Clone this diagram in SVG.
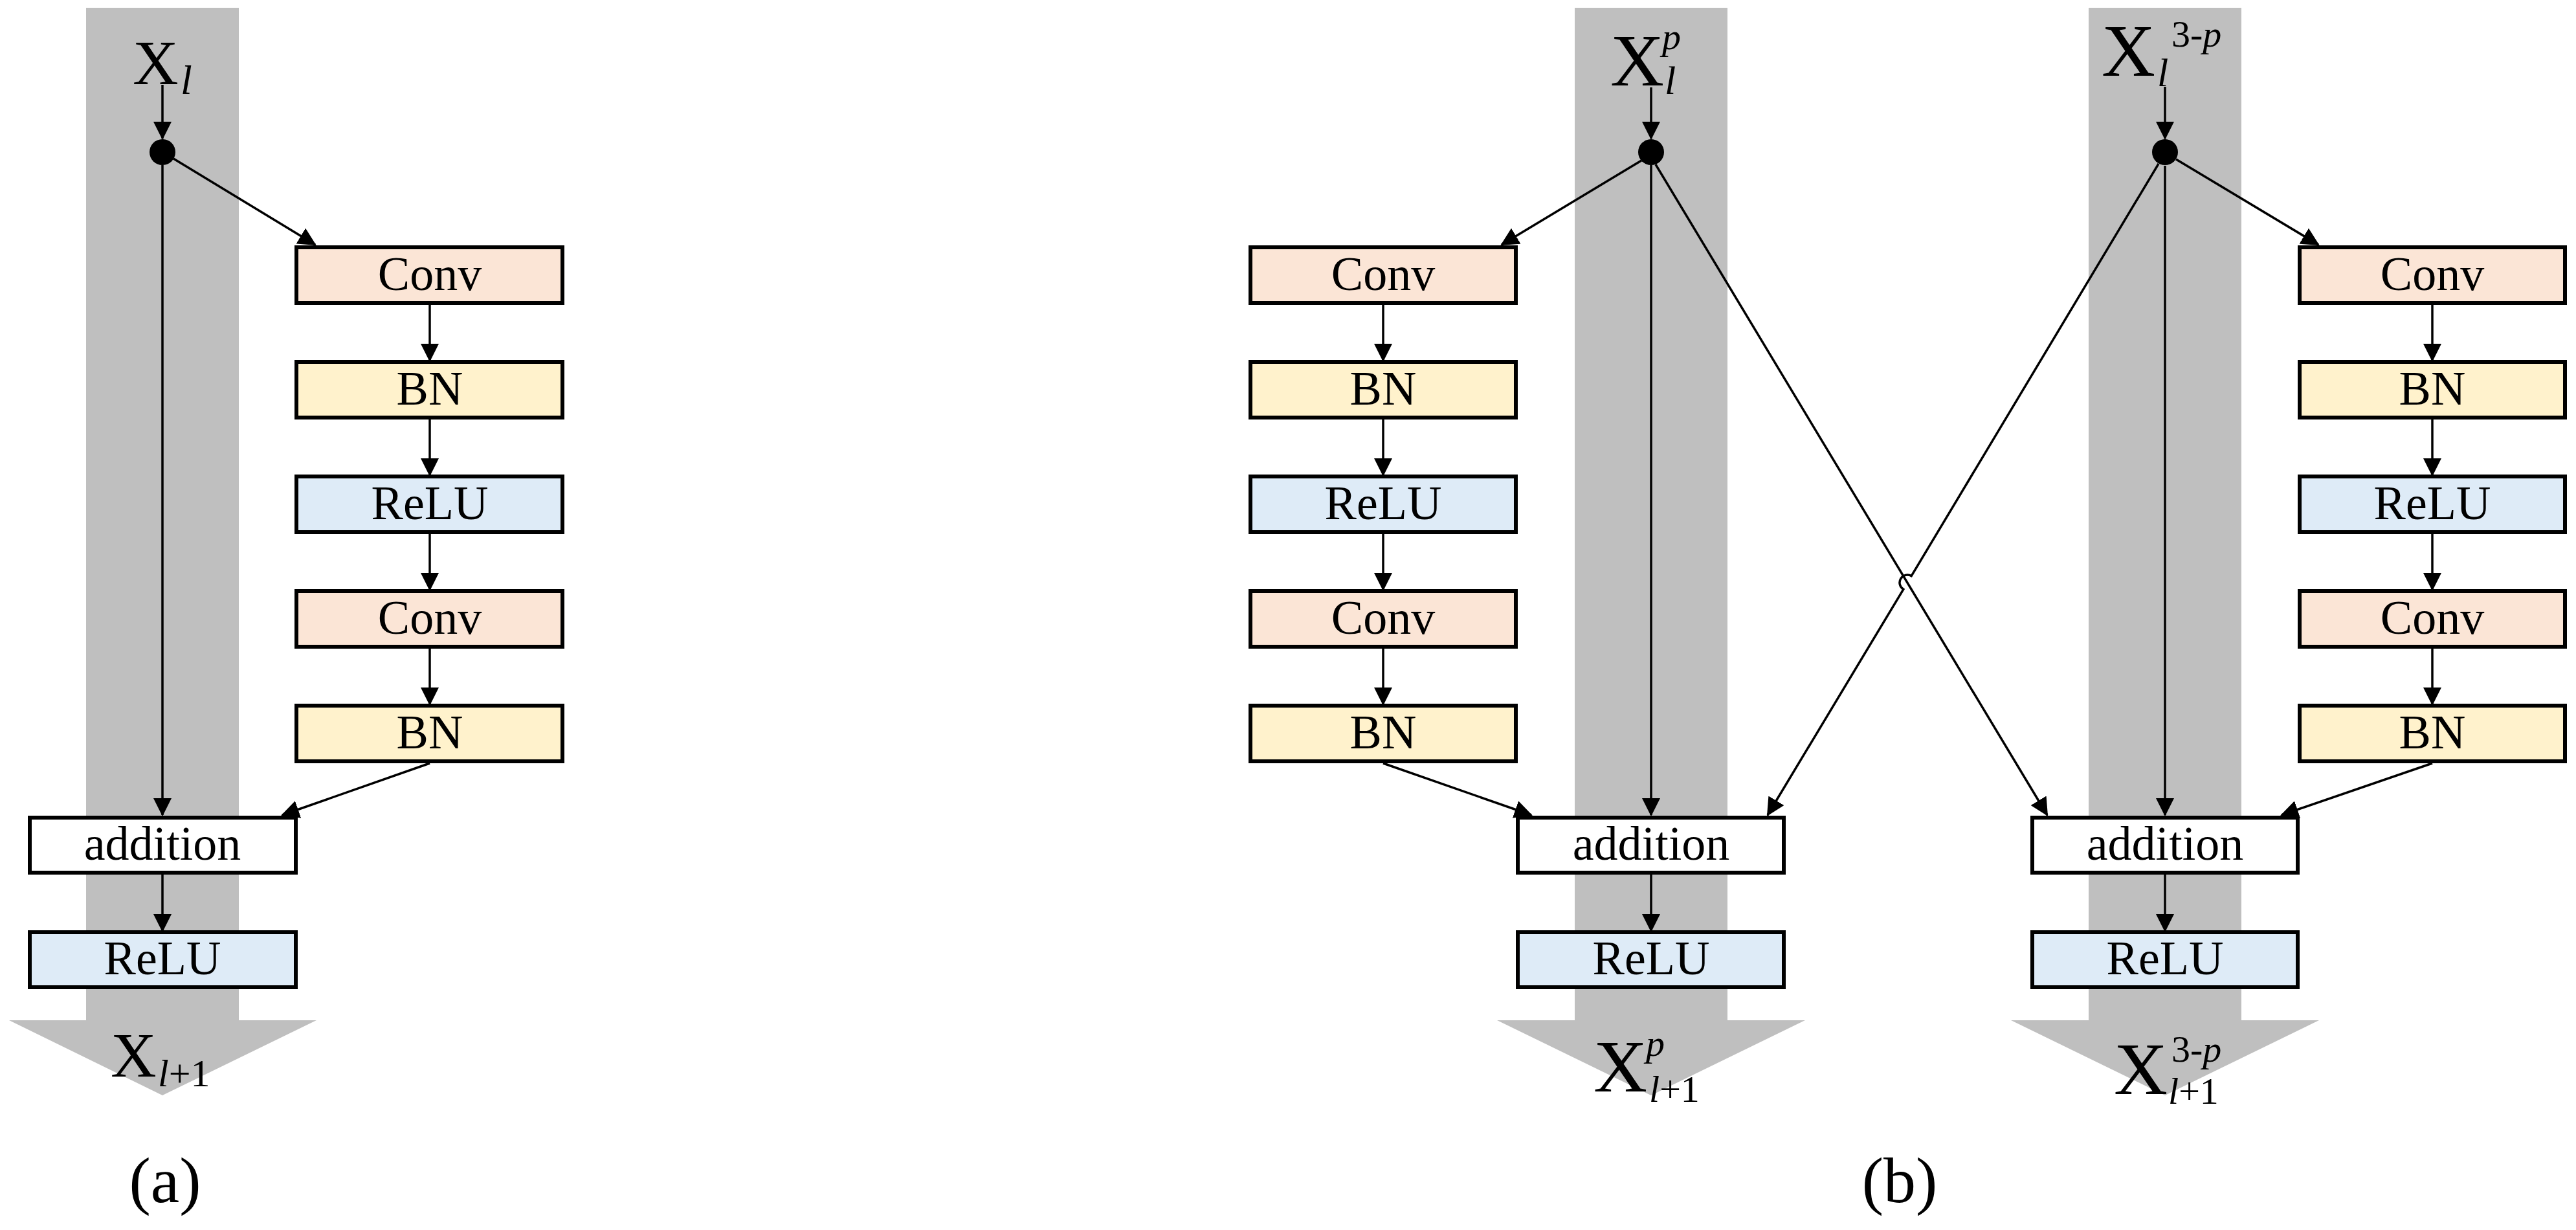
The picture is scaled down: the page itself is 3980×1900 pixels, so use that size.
<svg xmlns="http://www.w3.org/2000/svg" width="3980" height="1900" viewBox="0 0 3980 1900">
<style>
  .band{fill:#BFBFBF;stroke:none}
  .box{stroke:#000;stroke-width:6}
  .conv{fill:#FBE5D6}
  .bn{fill:#FFF2CC}
  .relu{fill:#DEEBF7}
  .add{fill:#FFFFFF}
  .lbl{font-family:"Liberation Serif","Times New Roman",serif;font-size:74px;text-anchor:middle;fill:#000}
  .math{font-family:"Liberation Serif","Times New Roman",serif;fill:#000}
  .it{font-style:italic}
  .cap{font-family:"Liberation Serif","Times New Roman",serif;font-size:100px;text-anchor:middle;fill:#000}
  .edge{fill:none;stroke:#000;stroke-width:3.5;marker-end:url(#arr)}
</style>
<defs>
  <marker id="arr" viewBox="0 0 28 28" refX="26" refY="14" markerWidth="28" markerHeight="28" markerUnits="userSpaceOnUse" orient="auto">
    <path d="M0,0 L28,14 L0,28 z" fill="#000"/>
  </marker>
</defs>
<rect width="3980" height="1900" fill="#FFFFFF"/>

<!-- gray flow bands -->
<g id="bands">
  <rect class="band" x="133" y="12" width="236" height="1565"/>
  <polygon class="band" points="14,1576 489,1576 251,1692"/>
  <rect class="band" x="2433" y="12" width="236" height="1565"/>
  <polygon class="band" points="2313,1576 2789,1576 2551,1692"/>
  <rect class="band" x="3227" y="12" width="236" height="1565"/>
  <polygon class="band" points="3107,1576 3583,1576 3345,1692"/>
</g>

<!-- connectors -->
<g id="connectors">
  <!-- (a) -->
  <line class="edge" x1="251" y1="131" x2="251" y2="214"/>
  <line class="edge" x1="251" y1="255" x2="251" y2="1259"/>
  <line class="edge" x1="268" y1="245" x2="487" y2="378"/>
  <line class="edge" x1="664" y1="471" x2="664" y2="557"/>
  <line class="edge" x1="664" y1="648" x2="664" y2="734"/>
  <line class="edge" x1="664" y1="825" x2="664" y2="911"/>
  <line class="edge" x1="664" y1="1002" x2="664" y2="1088"/>
  <line class="edge" x1="664" y1="1179" x2="436" y2="1259"/>
  <line class="edge" x1="251" y1="1351" x2="251" y2="1438"/>
  <!-- (b) left block -->
  <line class="edge" x1="2551" y1="135" x2="2551" y2="214"/>
  <line class="edge" x1="2551" y1="255" x2="2551" y2="1259"/>
  <line class="edge" x1="2536" y1="248" x2="2320" y2="378"/>
  <line class="edge" x1="2558" y1="254" x2="3163" y2="1259"/>
  <line class="edge" x1="2137" y1="471" x2="2137" y2="557"/>
  <line class="edge" x1="2137" y1="648" x2="2137" y2="734"/>
  <line class="edge" x1="2137" y1="825" x2="2137" y2="911"/>
  <line class="edge" x1="2137" y1="1002" x2="2137" y2="1088"/>
  <line class="edge" x1="2137" y1="1179" x2="2366" y2="1259"/>
  <line class="edge" x1="2551" y1="1351" x2="2551" y2="1438"/>
  <!-- (b) right block -->
  <line class="edge" x1="3345" y1="134" x2="3345" y2="214"/>
  <line class="edge" x1="3345" y1="256" x2="3345" y2="1259"/>
  <line class="edge" x1="3362" y1="246" x2="3582" y2="378"/>
  <path class="edge" d="M3335,253 L2953.2,889.7 A12,12 0 0 0 2940.8,910.3 L2731,1259"/>
  <line class="edge" x1="3758" y1="471" x2="3758" y2="557"/>
  <line class="edge" x1="3758" y1="648" x2="3758" y2="734"/>
  <line class="edge" x1="3758" y1="825" x2="3758" y2="911"/>
  <line class="edge" x1="3758" y1="1002" x2="3758" y2="1088"/>
  <line class="edge" x1="3758" y1="1179" x2="3525" y2="1259"/>
  <line class="edge" x1="3345" y1="1351" x2="3345" y2="1438"/>
</g>

<!-- split points -->
<g id="split-a"><circle cx="251" cy="235" r="20" fill="#000"/></g>
<g id="split-b1"><circle cx="2551" cy="235" r="20" fill="#000"/></g>
<g id="split-b2"><circle cx="3345" cy="235" r="20" fill="#000"/></g>

<!-- (a) nodes -->
<g id="a-conv1"><rect class="box conv" x="458" y="382" width="411" height="86"/><text class="lbl" x="664" y="448">Conv</text></g>
<g id="a-bn1"><rect class="box bn" x="458" y="559" width="411" height="86"/><text class="lbl" x="664" y="625">BN</text></g>
<g id="a-relu1"><rect class="box relu" x="458" y="736" width="411" height="86"/><text class="lbl" x="664" y="802">ReLU</text></g>
<g id="a-conv2"><rect class="box conv" x="458" y="913" width="411" height="86"/><text class="lbl" x="664" y="979">Conv</text></g>
<g id="a-bn2"><rect class="box bn" x="458" y="1090" width="411" height="86"/><text class="lbl" x="664" y="1156">BN</text></g>
<g id="a-add"><rect class="box add" x="46" y="1263" width="411" height="85"/><text class="lbl" x="251" y="1328">addition</text></g>
<g id="a-relu2"><rect class="box relu" x="46" y="1440" width="411" height="85"/><text class="lbl" x="251" y="1505">ReLU</text></g>

<!-- (b) left column -->
<g id="b1-conv1"><rect class="box conv" x="1932" y="382" width="410" height="86"/><text class="lbl" x="2137" y="448">Conv</text></g>
<g id="b1-bn1"><rect class="box bn" x="1932" y="559" width="410" height="86"/><text class="lbl" x="2137" y="625">BN</text></g>
<g id="b1-relu1"><rect class="box relu" x="1932" y="736" width="410" height="86"/><text class="lbl" x="2137" y="802">ReLU</text></g>
<g id="b1-conv2"><rect class="box conv" x="1932" y="913" width="410" height="86"/><text class="lbl" x="2137" y="979">Conv</text></g>
<g id="b1-bn2"><rect class="box bn" x="1932" y="1090" width="410" height="86"/><text class="lbl" x="2137" y="1156">BN</text></g>
<g id="b1-add"><rect class="box add" x="2345" y="1263" width="411" height="85"/><text class="lbl" x="2551" y="1328">addition</text></g>
<g id="b1-relu2"><rect class="box relu" x="2345" y="1440" width="411" height="85"/><text class="lbl" x="2551" y="1505">ReLU</text></g>

<!-- (b) right column -->
<g id="b2-conv1"><rect class="box conv" x="3553" y="382" width="410" height="86"/><text class="lbl" x="3758" y="448">Conv</text></g>
<g id="b2-bn1"><rect class="box bn" x="3553" y="559" width="410" height="86"/><text class="lbl" x="3758" y="625">BN</text></g>
<g id="b2-relu1"><rect class="box relu" x="3553" y="736" width="410" height="86"/><text class="lbl" x="3758" y="802">ReLU</text></g>
<g id="b2-conv2"><rect class="box conv" x="3553" y="913" width="410" height="86"/><text class="lbl" x="3758" y="979">Conv</text></g>
<g id="b2-bn2"><rect class="box bn" x="3553" y="1090" width="410" height="86"/><text class="lbl" x="3758" y="1156">BN</text></g>
<g id="b2-add"><rect class="box add" x="3140" y="1263" width="410" height="85"/><text class="lbl" x="3345" y="1328">addition</text></g>
<g id="b2-relu2"><rect class="box relu" x="3140" y="1440" width="410" height="85"/><text class="lbl" x="3345" y="1505">ReLU</text></g>

<!-- math labels -->
<g id="label-a-in">
  <text class="math" x="205" y="130" font-size="98">X</text>
  <text class="math it" x="279" y="145" font-size="64">l</text>
</g>
<g id="label-a-out">
  <text class="math" x="171" y="1663" font-size="98">X</text>
  <text class="math" x="244" y="1678" font-size="60"><tspan class="it">l</tspan>+1</text>
</g>
<g id="label-b1-in">
  <text class="math" x="2488" y="132" font-size="115">X</text>
  <text class="math it" x="2568" y="76" font-size="58">p</text>
  <text class="math it" x="2572" y="145" font-size="62">l</text>
</g>
<g id="label-b2-in">
  <text class="math" x="3247" y="117" font-size="115">X</text>
  <text class="math" x="3355" y="72" font-size="58">3-<tspan class="it">p</tspan></text>
  <text class="math it" x="3333" y="133" font-size="62">l</text>
</g>
<g id="label-b1-out">
  <text class="math" x="2462" y="1686" font-size="115">X</text>
  <text class="math it" x="2543" y="1631" font-size="58">p</text>
  <text class="math" x="2548" y="1702" font-size="58"><tspan class="it">l</tspan>+1</text>
</g>
<g id="label-b2-out">
  <text class="math" x="3266" y="1690" font-size="115">X</text>
  <text class="math" x="3355" y="1640" font-size="58">3-<tspan class="it">p</tspan></text>
  <text class="math" x="3350" y="1705" font-size="58"><tspan class="it">l</tspan>+1</text>
</g>

<!-- captions -->
<g id="caption-a"><text class="cap" x="255" y="1857">(a)</text></g>
<g id="caption-b"><text class="cap" x="2935" y="1857">(b)</text></g>
</svg>
